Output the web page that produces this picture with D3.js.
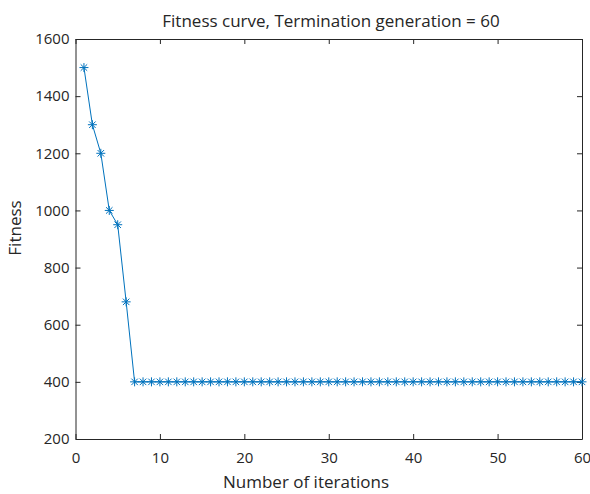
<!DOCTYPE html>
<html>
<head>
<meta charset="utf-8">
<script src="https://cdn.jsdelivr.net/npm/d3@7"></script>
<style>
  body { margin: 0; background: #fff; }
  svg { display: block; font-family: "Open Sans", "Noto Sans", sans-serif; }
</style>
</head>
<body>
<svg id="graph"></svg>
<script>
// iterations and fitness
let iterations = d3.range(1, 61)
let fitness = [1500, 1300, 1200, 1000, 950, 680].concat(d3.range(7, 61).map(() => 400))
let xTicks = [0, 10, 20, 30, 40, 50, 60]
let yTicks = [200, 400, 600, 800, 1000, 1200, 1400, 1600]

let title = 'Fitness curve, Termination generation = 60'
let xLabel = 'Number of iterations'
let yLabel = 'Fitness'

let margin = {top: 39, bottom: 55, left: 75.5, right: 8}
let fullWidth = 590
let fullHeight = 494
let width = fullWidth - margin.left - margin.right
let height = fullHeight - margin.top - margin.bottom

let svg = d3.select('svg#graph')
            .attr('width', fullWidth)
            .attr('height', fullHeight)

svg.append('rect')
   .attr('width', fullWidth)
   .attr('height', fullHeight)
   .attr('fill', '#fff')

let graph = svg.append('g')
               .attr('transform', 'translate(' + margin.left + ',' + margin.top + ')')

let x = d3.scaleLinear().domain([0, 60]).range([0, width])
let y = d3.scaleLinear().domain([200, 1600]).range([height, 0])

let tickColor = '#262626'
let fmt = d3.format('d')

function styleAxis(g, showLabels) {
    g.attr('font-family', null).attr('font-size', null)
    g.select('.domain').attr('stroke', tickColor).attr('stroke-width', 1)
    g.selectAll('.tick line').attr('stroke', tickColor)
    g.selectAll('.tick text')
     .attr('fill', tickColor)
     .style('font-size', '15px')
     .style('display', showLabels ? null : 'none')
}

// bottom / top
graph.append('g')
     .attr('transform', 'translate(0,' + height + ')')
     .call(d3.axisBottom(x).tickValues(xTicks).tickFormat(fmt).tickSizeInner(-5).tickSizeOuter(0).tickPadding(13))
     .call(g => styleAxis(g, true))
graph.append('g')
     .call(d3.axisTop(x).tickValues(xTicks).tickSizeInner(-5).tickSizeOuter(0))
     .call(g => styleAxis(g, false))

// left / right
graph.append('g')
     .call(d3.axisLeft(y).tickValues(yTicks).tickFormat(fmt).tickSizeInner(-5).tickSizeOuter(0).tickPadding(6))
     .call(g => styleAxis(g, true))
graph.append('g')
     .attr('transform', 'translate(' + width + ',0)')
     .call(d3.axisRight(y).tickValues(yTicks).tickSizeInner(-5).tickSizeOuter(0))
     .call(g => styleAxis(g, false))

let data = iterations.map((d, i) => ({it: d, fit: fitness[i]}))
let blue = '#0072BD'

graph.append('path')
     .datum(data)
     .attr('fill', 'none')
     .attr('stroke', blue)
     .attr('stroke-width', 1)
     .attr('d', d3.line().x(d => x(d.it)).y(d => y(d.fit)))

// asterisk markers
let r = 4.5
let star = 'M' + (-r) + ',0H' + r + 'M0,' + (-r) + 'V' + r +
           'M' + (-r * 0.72) + ',' + (-r * 0.72) + 'L' + (r * 0.72) + ',' + (r * 0.72) +
           'M' + (-r * 0.72) + ',' + (r * 0.72) + 'L' + (r * 0.72) + ',' + (-r * 0.72)

graph.selectAll('path.marker')
     .data(data)
     .join('path')
     .attr('class', 'marker')
     .attr('transform', d => 'translate(' + x(d.it) + ',' + y(d.fit) + ')')
     .attr('d', star)
     .attr('stroke', blue)
     .attr('stroke-width', 1)
     .attr('fill', 'none')

svg.append('text')
   .attr('x', 331)
   .attr('y', 27)
   .attr('text-anchor', 'middle')
   .attr('fill', tickColor)
   .style('font-size', '17px')
   .text(title)

svg.append('text')
   .attr('x', 306)
   .attr('y', 488)
   .attr('text-anchor', 'middle')
   .attr('fill', tickColor)
   .style('font-size', '17px')
   .text(xLabel)

svg.append('text')
   .attr('transform', 'translate(21,228) rotate(-90)')
   .attr('text-anchor', 'middle')
   .attr('fill', tickColor)
   .style('font-size', '17px')
   .text(yLabel)
</script>
</body>
</html>
